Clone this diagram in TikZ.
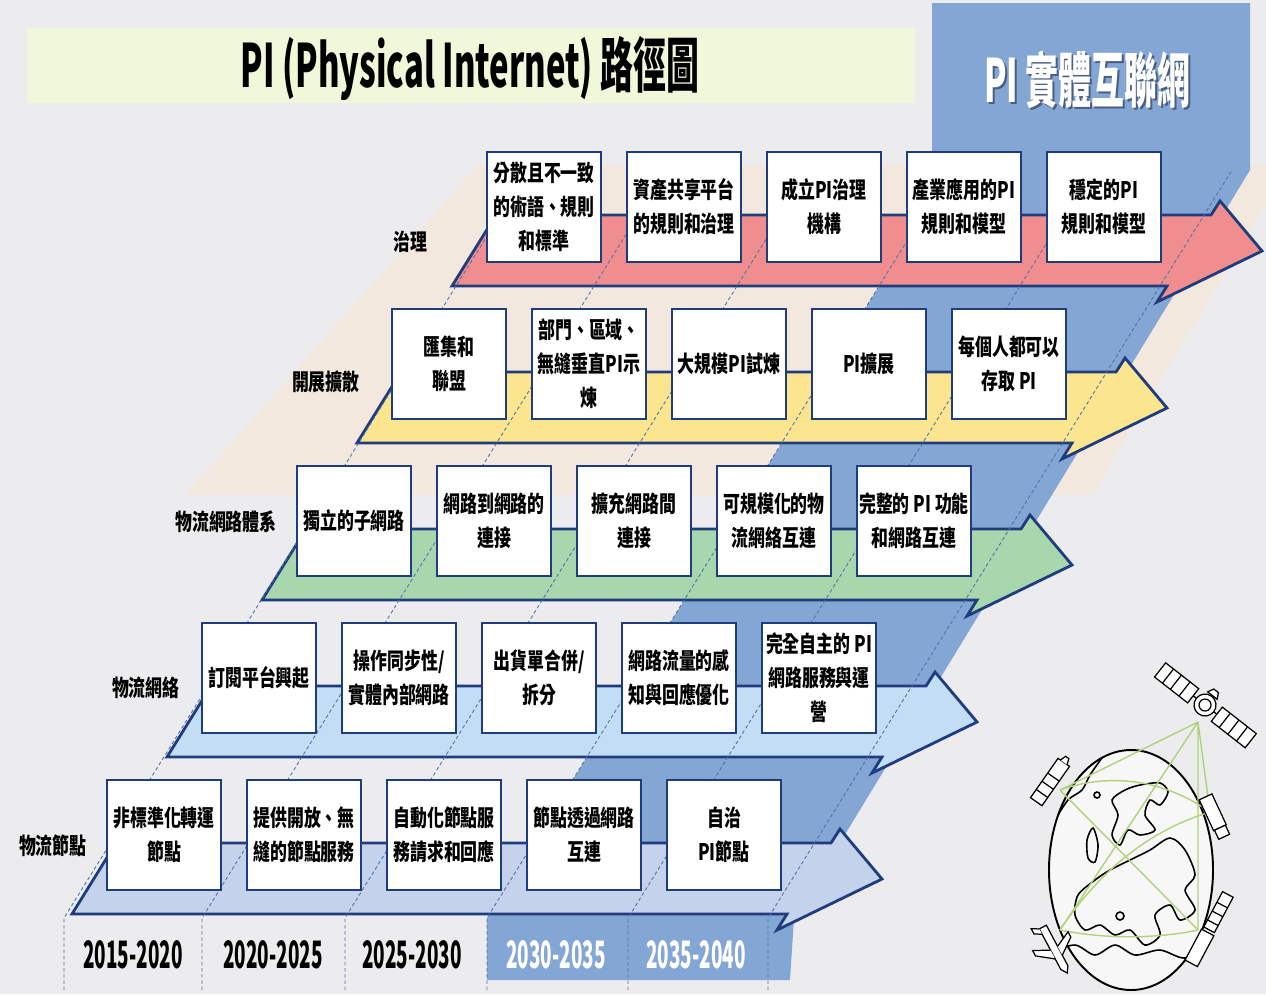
\documentclass[tikz,border=0pt]{standalone}
\usepackage{fontspec}
\setmainfont{Noto Sans CJK TC}[FakeStretch=0.74]
\newfontfamily\narrowfont{Noto Sans CJK TC}[FakeStretch=0.55]
\newfontfamily\yearface{Noto Sans CJK TC}[FakeStretch=0.5]

\definecolor{bggrey}{HTML}{ECECEE}
\definecolor{sand}{HTML}{F2E8DE}
\definecolor{piblue}{HTML}{84A6D4}
\definecolor{navy}{HTML}{1F3C7C}
\definecolor{govred}{HTML}{F08D8F}
\definecolor{diffyellow}{HTML}{FBE58F}
\definecolor{sysgreen}{HTML}{A8D7AD}
\definecolor{netblue}{HTML}{C3DEF4}
\definecolor{nodeblue}{HTML}{C4D2EC}
\definecolor{banner}{HTML}{F0F8DA}
\definecolor{colblue}{HTML}{4D72AC}
\definecolor{linkgreen}{HTML}{AFD27A}
\definecolor{shadowblue}{HTML}{4A5F80}
\definecolor{globefill}{HTML}{F7F7F7}

\tikzstyle{box} = [style={rectangle,draw=navy,fill=white,line width=1.3pt,minimum width=2.28cm,minimum height=2.2cm,inner sep=0pt,align=center,font=\boxfont}]
\tikzstyle{lane} = [style={draw=navy,line width=1.6pt,line join=miter}]
\tikzstyle{colline} = [style={draw=colblue,line width=0.5pt,dash pattern=on 2pt off 1.5pt}]
\tikzstyle{lbl} = [style={anchor=east,inner sep=0pt,font=\boxfont}]
\tikzstyle{yr} = [style={inner sep=0pt,font=\yearfont}]
\tikzstyle{link} = [style={draw=linkgreen,line width=0.8pt}]
\tikzstyle{gear} = [style={draw=black,line width=0.7pt,fill=white}]

\newcommand*{\boxfont}{\fontsize{13pt}{19.3pt}\selectfont\bfseries}
\newcommand*{\yearfont}{\yearface\bfseries\fontsize{21.5pt}{24pt}\selectfont}
\newcommand*{\headfont}{\narrowfont\bfseries\fontsize{34pt}{40pt}\selectfont}
\newcommand*{\xstart}{164}
\newcommand*{\ystart}{835}
\newcommand*{\rowdx}{95}
\newcommand*{\rowdy}{157}

\begin{document}
\begin{tikzpicture}[x=0.02cm,y=-0.02cm]
\useasboundingbox (0,0) rectangle (1266,994);
\fill [bggrey] (0,0) rectangle (1266,994);

%% sand backdrop and PI column
\fill [sand] (478,165) -- (1266,165) -- (1266,205) -- (1092,495) -- (185,495) -- cycle;
\fill [piblue] (932,3) -- (1250,3) -- (1250,170) -- (794,918) -- (790,980)
  -- (487,980) -- (487,918) -- (932,201) -- cycle;

%% title
\fill [banner] (27,28) rectangle (915,103);
\node [font=\headfont] (title) at (470,68) {PI (Physical Internet) 路徑圖};
\node [font=\headfont, text=shadowblue] (pishadow) at (1089,82) {PI 實體互聯網};
\node [font=\headfont, text=white] (pi) at (1087,80) {PI 實體互聯網};

%% lanes
\foreach \r/\col in {0/nodeblue,1/netblue,2/sysgreen,3/diffyellow,4/govred}
  {\draw [lane, fill=\col, shift={(\rowdx*\r,-\rowdy*\r)}]
     (72,914) -- (116,843) -- (831,843) -- (840,829) -- (882,879) -- (777,930) -- (787,914) -- cycle;}

%% period lines
\foreach \x in {64,202,345,487,628,768}
  {\draw [colline] (\x,990) -- (\x,918) -- (\x+464,170);}

%% 物流節點
\foreach \c/\txt in {0/{非標準化轉運\\節點},1/{提供開放、無\\縫的節點服務},2/{自動化節點服\\務請求和回應},3/{節點透過網路\\互連},4/{自治\\PI節點}}
  {\node [box] (b0\c) at (\xstart+140*\c,\ystart) {\txt};}

%% 物流網絡
\foreach \c/\txt in {0/{訂閱平台興起},1/{操作同步性/\\實體內部網路},2/{出貨單合併/\\拆分},3/{網路流量的感\\知與回應優化},4/{完全自主的 PI\\網路服務與運\\營}}
  {\node [box] (b1\c) at (\xstart+\rowdx+140*\c,\ystart-\rowdy) {\txt};}

%% 物流網路體系
\foreach \c/\txt in {0/{獨立的子網路},1/{網路到網路的\\連接},2/{擴充網路間\\連接},3/{可規模化的物\\流網絡互連},4/{完整的 PI 功能\\和網路互連}}
  {\node [box] (b2\c) at (\xstart+2*\rowdx+140*\c,\ystart-2*\rowdy) {\txt};}

%% 開展擴散
\foreach \c/\txt in {0/{匯集和\\聯盟},1/{部門、區域、\\無縫垂直PI示\\煉},2/{大規模PI試煉},3/{PI擴展},4/{每個人都可以\\存取 PI}}
  {\node [box] (b3\c) at (\xstart+3*\rowdx+140*\c,\ystart-3*\rowdy) {\txt};}

%% 治理
\foreach \c/\txt in {0/{分散且不一致\\的術語、規則\\和標準},1/{資產共享平台\\的規則和治理},2/{成立PI治理\\機構},3/{產業應用的PI\\規則和模型},4/{穩定的PI\\規則和模型}}
  {\node [box] (b4\c) at (\xstart+4*\rowdx+140*\c,\ystart-4*\rowdy) {\txt};}

%% row labels
\node [lbl] (l4) at (428,242) {治理};
\node [lbl] (l3) at (360,382) {開展擴散};
\node [lbl] (l2) at (277,522) {物流網路體系};
\node [lbl] (l1) at (180,688) {物流網絡};
\node [lbl] (l0) at (87,846) {物流節點};

%% years
\node [yr] (y1) at (133,955) {2015-2020};
\node [yr] (y2) at (273,955) {2020-2025};
\node [yr] (y3) at (412,955) {2025-2030};
\node [yr, text=white] (y4) at (556,955) {2030-2035};
\node [yr, text=white] (y5) at (696,955) {2035-2040};

%% globe
\draw [line width=1.1pt, fill=globefill] (1131,870) ellipse [x radius=82, y radius=120];
\begin{scope}[line width=0.9pt]
\clip (1131,870) ellipse [x radius=82, y radius=120];
\draw plot[smooth] coordinates {(1055,820) (1068,800) (1082,790) (1090,775) (1104,755)};
\draw (1097,795) circle [radius=3];
\draw plot[smooth cycle] coordinates {(1112,800) (1125,790) (1140,785) (1160,783) (1168,792) (1160,805) (1150,800) (1145,815) (1155,830) (1140,835) (1128,830) (1120,845) (1112,835) (1118,815)};
\draw plot[smooth cycle] coordinates {(1087,840) (1093,828) (1098,845) (1095,862) (1088,858)};
\draw plot[smooth cycle] coordinates {(1078,895) (1095,880) (1110,870) (1130,860) (1150,850) (1170,838) (1185,850) (1195,875) (1185,890) (1195,910) (1180,920) (1170,905) (1155,915) (1160,935) (1145,945) (1130,930) (1115,935) (1100,925) (1085,930) (1075,915)};
\draw (1120,916) circle [radius=4];
\draw plot[smooth] coordinates {(1050,952) (1075,945) (1095,955) (1115,945) (1135,955) (1160,950) (1185,958) (1212,945)};
\end{scope}

\coordinate (sat) at (1198,722);
\coordinate (rail) at (1060,790);
\coordinate (truck) at (1210,812);
\coordinate (ship) at (1198,930);
\coordinate (plane) at (1060,930);

\draw [link] (sat) -- (rail) (sat) -- (truck) (sat) -- (plane) (sat) -- (ship) (rail) -- (ship);
\draw [link] (rail) .. controls (1110,772) and (1165,780) .. (truck);
\draw [link] (plane) .. controls (1100,870) and (1150,830) .. (truck);
\draw [link] (plane) .. controls (1110,940) and (1160,938) .. (ship);

%% satellite
\begin{scope}[shift={(1205,705)},rotate=-38]
\draw [gear] (-57,-9) rectangle (-15,9);
\draw [gear] (15,-9) rectangle (58,9);
\foreach \s in {-47,-37,-26,25,36,47}
  {\draw [line width=0.7pt] (\s,-9) -- (\s,9);}
\draw [line width=0.7pt] (-15,0) -- (-11,0) (11,0) -- (15,0);
\draw [gear] (0,0) circle [radius=11];
\draw [line width=0.7pt] (0,0) circle [radius=6];
\draw [gear] (-6,-12) -- (6,-12) -- (3,-18) -- (-3,-18) -- cycle;
\end{scope}

%% rail car
\begin{scope}[shift={(1050,782)},rotate=55]
\draw [gear] (-24,-7) rectangle (24,7);
\foreach \s in {-14,-4,6}
  {\draw [line width=0.7pt] (\s,-7) -- (\s,7);}
\draw [gear] (24,-4) -- (30,-2) -- (30,2) -- (24,4);
\end{scope}

%% truck
\begin{scope}[shift={(1214,815)},rotate=-65]
\draw [gear] (-20,-7) rectangle (14,7);
\draw [gear] (14,-6) rectangle (24,6);
\end{scope}

%% ship
\begin{scope}[shift={(1210,928)},rotate=62]
\draw [gear] (-40,-7) rectangle (-5,7);
\draw [gear] (-2,-6) rectangle (38,6);
\foreach \s in {6,16,26}
  {\draw [line width=0.7pt] (\s,-6) -- (\s,6);}
\end{scope}

%% plane
\begin{scope}[shift={(1055,950)},rotate=-62]
\draw [gear] (-26,-4) -- (20,-4) -- (26,0) -- (20,4) -- (-26,4) -- cycle;
\draw [gear] (-2,4) -- (-10,20) -- (-4,20) -- (8,4);
\draw [gear] (-2,-4) -- (-10,-20) -- (-4,-20) -- (8,-4);
\draw [gear] (-26,4) -- (-30,11) -- (-24,11) -- (-20,4);
\end{scope}

\end{tikzpicture}
\end{document}
